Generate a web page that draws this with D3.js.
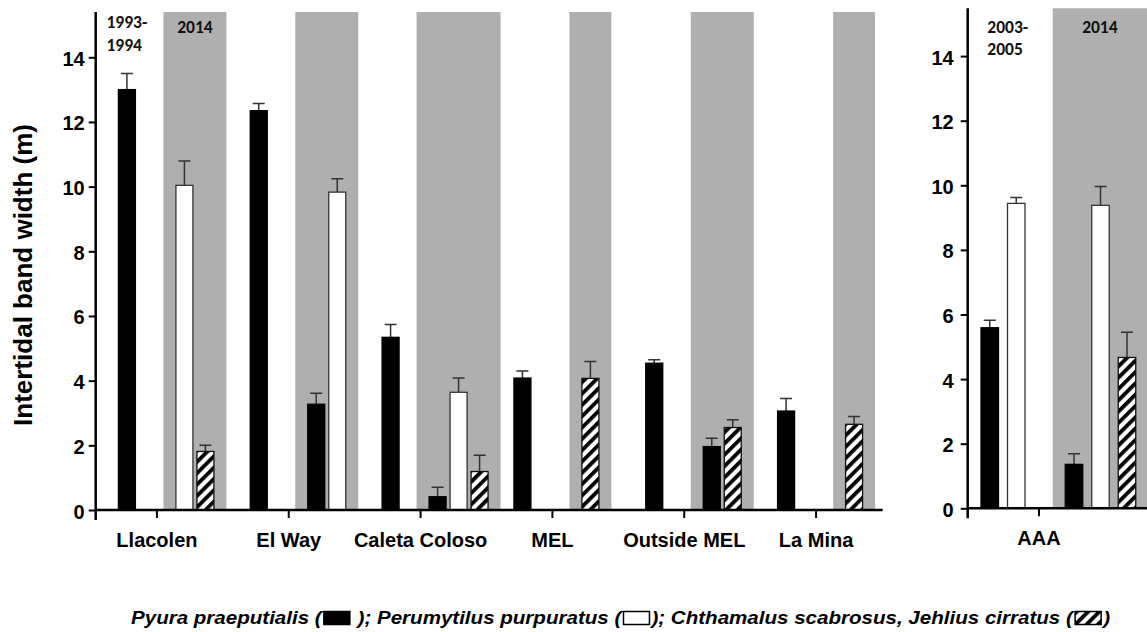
<!DOCTYPE html>
<html>
<head>
<meta charset="utf-8">
<script src="https://cdn.jsdelivr.net/npm/d3@7"></script>
<style>
  body { margin: 0; background: #fff; }
  svg { display: block; }
</style>
</head>
<body>
<svg id="chart" width="1147" height="632"></svg>
<script>
// ---- Data: intertidal band width (m), mean and error ----
const sites = ["Llacolen", "El Way", "Caleta Coloso", "MEL", "Outside MEL", "La Mina"];
const pyura1993 = [13.0, 12.35, 5.34, 4.08, 4.54, 3.06];
const pyura1993Err = [0.5, 0.22, 0.4, 0.22, 0.11, 0.39];
const pyura2014 = [0, 3.27, 0.41, 0, 1.96, 0];
const pyura2014Err = [0, 0.34, 0.29, 0, 0.26, 0];
const perum2014 = [10.04, 9.83, 3.64, 0, 0, 0];
const perum2014Err = [0.75, 0.41, 0.44, 0, 0, 0];
const barn2014 = [1.81, 0, 1.19, 4.07, 2.55, 2.65];
const barn2014Err = [0.19, 0, 0.5, 0.52, 0.24, 0.24];

const aaaSites = ["AAA"];
const aaa2003 = [5.59, 9.44, 0];        // Pyura, Perumytilus, barnacles
const aaa2003Err = [0.23, 0.18, 0];
const aaa2014 = [1.36, 9.38, 4.67];
const aaa2014Err = [0.33, 0.58, 0.78];

const yTicks = [0, 2, 4, 6, 8, 10, 12, 14];
const speciesKeys = ["pyura", "perum", "barn"];

const FONT = "'Liberation Sans', Arial, Helvetica, sans-serif";
const NOTE_FONT = "Carlito, Calibri, Lato, 'Open Sans', sans-serif";
const GREY = "#afafaf";

const svg = d3.select("#chart");

// hatch pattern for the barnacle bars
const defs = svg.append("defs");
const pat = defs.append("pattern")
  .attr("id", "hatch")
  .attr("patternUnits", "userSpaceOnUse")
  .attr("width", 8).attr("height", 8)
  .attr("patternTransform", "rotate(45)");
pat.append("rect").attr("width", 8).attr("height", 8).attr("fill", "#fff");
pat.append("rect").attr("width", 3.8).attr("height", 8).attr("fill", "#000");

const styleBySpecies = {
  pyura: { fill: "#000", stroke: "#000" },
  perum: { fill: "#fff", stroke: "#333" },
  barn:  { fill: "url(#hatch)", stroke: "#111" }
};

// rows: one per site/period/species
function buildRows(siteList, periodValues) {
  const rows = [];
  siteList.forEach((s, i) => {
    periodValues.forEach((pv, p) => {
      speciesKeys.forEach(k => {
        const vals = pv[k];
        if (!vals) return;
        rows.push({ site: s, period: p, species: k, value: vals[0][i], err: vals[1][i] });
      });
    });
  });
  return rows;
}

const leftRows = buildRows(sites, [
  { pyura: [pyura1993, pyura1993Err] },
  { pyura: [pyura2014, pyura2014Err], perum: [perum2014, perum2014Err], barn: [barn2014, barn2014Err] }
]);

const rightRows = buildRows(aaaSites, [
  { pyura: [[aaa2003[0]], [aaa2003Err[0]]], perum: [[aaa2003[1]], [aaa2003Err[1]]], barn: [[aaa2003[2]], [aaa2003Err[2]]] },
  { pyura: [[aaa2014[0]], [aaa2014Err[0]]], perum: [[aaa2014[1]], [aaa2014Err[1]]], barn: [[aaa2014[2]], [aaa2014Err[2]]] }
]);

function drawPanel(cfg) {
  const g = svg.append("g");
  const x = d3.scaleBand().domain(cfg.sites).range(cfg.bandRange);
  const y = d3.scaleLinear().domain([0, cfg.yMax]).range([cfg.yZero, cfg.yTop]);
  const center = s => x(s) + x.bandwidth() / 2;

  // lay out non-zero bars of each period group side by side
  const placed = [];
  const shades = [];
  cfg.sites.forEach(s => {
    [0, 1].forEach(p => {
      const grp = cfg.rows.filter(r => r.site === s && r.period === p && r.value > 0);
      const c = center(s) + cfg.groupOffsets[p];
      grp.forEach((r, i) => {
        placed.push(Object.assign({ cx: c + (i - (grp.length - 1) / 2) * cfg.step }, r));
      });
      if (p === 1) {
        const half = (grp.length - 1) / 2 * cfg.step + cfg.barW / 2 + cfg.shadePad;
        shades.push({ x0: c - half, x1: Math.min(c + half, cfg.rightX) });
      }
    });
  });

  // grey background for the 2014 survey
  g.append("g").selectAll("rect").data(shades).join("rect")
    .attr("x", d => d.x0).attr("width", d => d.x1 - d.x0)
    .attr("y", cfg.yTop).attr("height", cfg.yZero - cfg.yTop)
    .attr("fill", GREY);

  // error bars
  const eb = g.append("g").attr("stroke", "#333").attr("stroke-width", 1.5).attr("fill", "none");
  eb.selectAll("path").data(placed.filter(d => d.err > 0)).join("path")
    .attr("d", d => {
      const top = y(d.value + d.err);
      return `M${d.cx},${y(d.value)}V${top}M${d.cx - 6},${top}H${d.cx + 6}`;
    });

  // bars
  g.append("g").selectAll("rect").data(placed).join("rect")
    .attr("x", d => d.cx - cfg.barW / 2)
    .attr("width", cfg.barW)
    .attr("y", d => y(d.value))
    .attr("height", d => cfg.yZero - y(d.value))
    .attr("fill", d => styleBySpecies[d.species].fill)
    .attr("stroke", d => styleBySpecies[d.species].stroke)
    .attr("stroke-width", 1.3);

  // y axis
  const ya = g.append("g").attr("transform", `translate(${cfg.axisX},0)`)
    .call(d3.axisLeft(y).tickValues(yTicks).tickSize(7).tickPadding(cfg.yLabelPad));
  ya.select(".domain").remove();
  ya.selectAll(".tick line").attr("stroke", "#000").attr("stroke-width", 2);
  ya.selectAll(".tick text")
    .attr("font-family", FONT).attr("font-size", 20).attr("font-weight", "bold")
    .attr("fill", "#000").attr("dy", "0.4em");
  g.append("line")
    .attr("x1", cfg.axisX).attr("x2", cfg.axisX)
    .attr("y1", cfg.yTop).attr("y2", cfg.yZero + 10)
    .attr("stroke", "#000").attr("stroke-width", 2.5);

  // x axis
  const xa = g.append("g").attr("transform", `translate(0,${cfg.yZero})`)
    .call(d3.axisBottom(x).tickSize(8).tickPadding(15));
  xa.select(".domain").remove();
  xa.selectAll(".tick line").attr("stroke", "#000").attr("stroke-width", 2);
  xa.selectAll(".tick text")
    .attr("font-family", FONT).attr("font-size", 20).attr("font-weight", "bold")
    .attr("fill", "#000");
  g.append("line")
    .attr("x1", cfg.axisX).attr("x2", cfg.rightX)
    .attr("y1", cfg.yZero).attr("y2", cfg.yZero)
    .attr("stroke", "#000").attr("stroke-width", 2.5);

  // period labels
  const notes = g.append("g")
    .attr("font-family", NOTE_FONT).attr("font-size", 17.5).attr("font-weight", "bold").attr("fill", "#111");
  const t1 = notes.append("text").attr("x", cfg.earlyX).attr("y", cfg.earlyY);
  t1.append("tspan").attr("x", cfg.earlyX).text(cfg.earlyLabel[0]);
  t1.append("tspan").attr("x", cfg.earlyX).attr("dy", 22.5).text(cfg.earlyLabel[1]);
  const firstShade = shades[0];
  notes.append("text")
    .attr("x", (firstShade.x0 + firstShade.x1) / 2).attr("y", 32.7)
    .attr("text-anchor", "middle").text("2014");
}

drawPanel({
  sites: sites, rows: leftRows,
  bandRange: [91, 882], axisX: 95.7, rightX: 882.7,
  yZero: 510, yTop: 12, yMax: 15.4,
  groupOffsets: [-30, 38], step: 21, barW: 17, shadePad: 12.5,
  yLabelPad: 4,
  earlyLabel: ["1993-", "1994"], earlyX: 106.5, earlyY: 28.3
});

drawPanel({
  sites: aaaSites, rows: rightRows,
  bandRange: [967.7, 1110.3], axisX: 967.7, rightX: 1147,
  yZero: 508.3, yTop: 8.3, yMax: 15.48,
  groupOffsets: [-36, 61.5], step: 26.5, barW: 17.5, shadePad: 12.5,
  yLabelPad: 7,
  earlyLabel: ["2003-", "2005"], earlyX: 987.3, earlyY: 32.7
});

// y-axis title
svg.append("text")
  .attr("transform", "translate(32,275) rotate(-90)")
  .attr("text-anchor", "middle")
  .attr("font-family", FONT).attr("font-size", 26).attr("font-weight", "bold")
  .attr("fill", "#000")
  .text("Intertidal band width (m)");

// legend line: text pieces condensed horizontally, swatch boxes between them
const legendItems = [
  { t: "Pyura praeputialis (" }, { box: "pyura" }, { t: " ); Perumytilus purpuratus (" }, { box: "perum" },
  { t: "); Chthamalus scabrosus, Jehlius cirratus (" }, { box: "barn" }, { t: ")" }
];
const legendStart = 131, legendEnd = 1110, baseY = 624.5;
const boxW = 26, boxH = 13, boxGap = 2;
const legend = svg.append("g");
const pieces = legendItems.map(it => {
  if (!it.t) return it;
  const tx = legend.append("text")
    .attr("y", baseY)
    .attr("font-family", FONT).attr("font-size", 19)
    .attr("font-weight", "bold").attr("font-style", "italic")
    .attr("fill", "#000")
    .attr("xml:space", "preserve").style("white-space", "pre")
    .text(it.t);
  return Object.assign({ node: tx, w: tx.node().getComputedTextLength() }, it);
});
const textTotal = d3.sum(pieces.filter(p => p.t), p => p.w);
const boxTotal = pieces.filter(p => p.box).length * (boxW + 2 * boxGap);
const sx = (legendEnd - legendStart - boxTotal) / textTotal;
let cursor = legendStart;
pieces.forEach(p => {
  if (p.t) {
    p.node.attr("transform", `translate(${cursor},0) scale(${sx},1)`);
    cursor += p.w * sx;
  } else {
    legend.append("rect")
      .attr("x", cursor + boxGap).attr("y", baseY - boxH)
      .attr("width", boxW).attr("height", boxH)
      .attr("fill", styleBySpecies[p.box].fill)
      .attr("stroke", "#000").attr("stroke-width", 1.5);
    cursor += boxW + 2 * boxGap;
  }
});
</script>
</body>
</html>
